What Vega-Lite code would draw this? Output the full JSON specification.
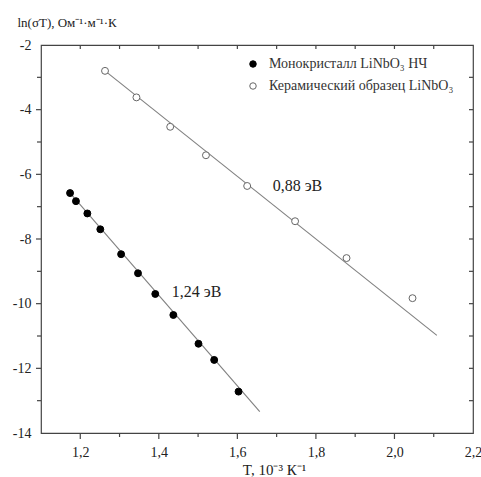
{
  "$schema": "https://vega.github.io/schema/vega-lite/v6.json",
  "width": 432,
  "height": 388,
  "autosize": {"type": "none"},
  "padding": {"left": 41, "top": 45, "right": 8, "bottom": 44},
  "background": "white",
  "config": {
    "view": {"stroke": "#444", "strokeWidth": 1.2},
    "font": "Liberation Serif",
    "axis": {
      "domain": false,
      "ticks": false,
      "labelColor": "#222",
      "titleColor": "#222",
      "labelFont": "Liberation Serif",
      "titleFont": "Liberation Serif",
      "labelFontSize": 14,
      "titleFontSize": 13,
      "titleFontWeight": "normal",
      "grid": false
    }
  },
  "datasets": {
    "pts": [
      {"s": "Монокристалл LiNbO₃ НЧ", "x": 1.174, "y": -6.58},
      {"s": "Монокристалл LiNbO₃ НЧ", "x": 1.189, "y": -6.83},
      {"s": "Монокристалл LiNbO₃ НЧ", "x": 1.218, "y": -7.21},
      {"s": "Монокристалл LiNbO₃ НЧ", "x": 1.251, "y": -7.70},
      {"s": "Монокристалл LiNbO₃ НЧ", "x": 1.304, "y": -8.47},
      {"s": "Монокристалл LiNbO₃ НЧ", "x": 1.347, "y": -9.06},
      {"s": "Монокристалл LiNbO₃ НЧ", "x": 1.391, "y": -9.70},
      {"s": "Монокристалл LiNbO₃ НЧ", "x": 1.437, "y": -10.35},
      {"s": "Монокристалл LiNbO₃ НЧ", "x": 1.501, "y": -11.24},
      {"s": "Монокристалл LiNbO₃ НЧ", "x": 1.541, "y": -11.74},
      {"s": "Монокристалл LiNbO₃ НЧ", "x": 1.603, "y": -12.72},
      {"s": "Керамический образец LiNbO₃", "x": 1.263, "y": -2.80},
      {"s": "Керамический образец LiNbO₃", "x": 1.343, "y": -3.62},
      {"s": "Керамический образец LiNbO₃", "x": 1.429, "y": -4.53},
      {"s": "Керамический образец LiNbO₃", "x": 1.520, "y": -5.41},
      {"s": "Керамический образец LiNbO₃", "x": 1.625, "y": -6.36},
      {"s": "Керамический образец LiNbO₃", "x": 1.747, "y": -7.45},
      {"s": "Керамический образец LiNbO₃", "x": 1.878, "y": -8.59},
      {"s": "Керамический образец LiNbO₃", "x": 2.046, "y": -9.83}
    ],
    "fits": [
      {"s": "a", "x": 1.172, "y": -6.55},
      {"s": "a", "x": 1.657, "y": -13.34},
      {"s": "b", "x": 1.263, "y": -2.80},
      {"s": "b", "x": 2.108, "y": -10.98}
    ],
    "notes": [
      {"x": 1.690, "y": -6.36, "t": "0,88 эВ"},
      {"x": 1.433, "y": -9.64, "t": "1,24 эВ"}
    ],
    "xt": [
      {"v": 1.2}, {"v": 1.3}, {"v": 1.4}, {"v": 1.5}, {"v": 1.6},
      {"v": 1.7}, {"v": 1.8}, {"v": 1.9}, {"v": 2.0}, {"v": 2.1}
    ],
    "yt": [
      {"v": -13}, {"v": -12}, {"v": -11}, {"v": -10}, {"v": -9}, {"v": -8},
      {"v": -7}, {"v": -6}, {"v": -5}, {"v": -4}, {"v": -3}
    ]
  },
  "layer": [
    {
      "data": {"name": "fits"},
      "mark": {"type": "line", "color": "#808080", "strokeWidth": 1.1},
      "encoding": {
        "x": {
          "field": "x", "type": "quantitative",
          "scale": {"domain": [1.1, 2.2], "nice": false, "zero": false},
          "axis": {
            "orient": "bottom",
            "values": [1.2, 1.4, 1.6, 1.8, 2.0, 2.2],
            "labelExpr": "replace(format(datum.value, '.1f'), '.', ',')",
            "labelPadding": 12,
            "labelFlush": false,
            "labelOverlap": false,
            "title": "T, 10⁻³ К⁻¹",
            "titleFontSize": 15,
            "titlePadding": 0,
            "titleX": 233,
            "titleY": 41,
            "titleAlign": "center",
            "titleBaseline": "alphabetic"
          }
        },
        "y": {
          "field": "y", "type": "quantitative",
          "scale": {"domain": [-14, -2], "nice": false, "zero": false},
          "axis": {
            "orient": "left",
            "values": [-14, -12, -10, -8, -6, -4, -2],
            "labelExpr": "toString(datum.value)",
            "labelPadding": 10,
            "labelFlush": false,
            "labelOverlap": false,
            "title": "ln(σT), Ом⁻¹·м⁻¹·К",
            "titleAngle": 0,
            "titleAlign": "left",
            "titleBaseline": "alphabetic",
            "titleX": -24,
            "titleY": -19
          }
        },
        "detail": {"field": "s"}
      }
    },
    {
      "data": {"name": "xt"},
      "transform": [{"filter": "round(datum.v*10) % 2 == 0"}],
      "mark": {"type": "tick", "orient": "vertical", "color": "#444", "thickness": 1.2, "size": 6, "yOffset": 3, "opacity": 1},
      "encoding": {
        "x": {"field": "v", "type": "quantitative", "axis": null},
        "y": {"datum": -14, "type": "quantitative", "axis": null}
      }
    },
    {
      "data": {"name": "xt"},
      "transform": [{"filter": "round(datum.v*10) % 2 != 0"}],
      "mark": {"type": "tick", "orient": "vertical", "color": "#444", "thickness": 1.2, "size": 4, "yOffset": 2, "opacity": 1},
      "encoding": {
        "x": {"field": "v", "type": "quantitative", "axis": null},
        "y": {"datum": -14, "type": "quantitative", "axis": null}
      }
    },
    {
      "data": {"name": "xt"},
      "mark": {"type": "tick", "orient": "vertical", "color": "#444", "thickness": 1.2, "size": 4, "yOffset": 2, "opacity": 1},
      "encoding": {
        "x": {"field": "v", "type": "quantitative", "axis": null},
        "y": {"datum": -2, "type": "quantitative", "axis": null}
      }
    },
    {
      "data": {"name": "yt"},
      "transform": [{"filter": "datum.v % 2 == 0"}],
      "mark": {"type": "tick", "orient": "horizontal", "color": "#444", "thickness": 1.2, "size": 5, "xOffset": -2.5, "opacity": 1},
      "encoding": {
        "y": {"field": "v", "type": "quantitative", "axis": null},
        "x": {"datum": 1.1, "type": "quantitative", "axis": null}
      }
    },
    {
      "data": {"name": "yt"},
      "transform": [{"filter": "datum.v % 2 != 0"}],
      "mark": {"type": "tick", "orient": "horizontal", "color": "#444", "thickness": 1.2, "size": 4, "xOffset": -2, "opacity": 1},
      "encoding": {
        "y": {"field": "v", "type": "quantitative", "axis": null},
        "x": {"datum": 1.1, "type": "quantitative", "axis": null}
      }
    },
    {
      "data": {"name": "yt"},
      "mark": {"type": "tick", "orient": "horizontal", "color": "#444", "thickness": 1.2, "size": 4, "xOffset": -2, "opacity": 1},
      "encoding": {
        "y": {"field": "v", "type": "quantitative", "axis": null},
        "x": {"datum": 2.2, "type": "quantitative", "axis": null}
      }
    },
    {
      "data": {"name": "pts"},
      "mark": {"type": "point", "filled": false, "size": 48, "strokeWidth": 1, "opacity": 1},
      "encoding": {
        "x": {"field": "x", "type": "quantitative", "axis": null},
        "y": {"field": "y", "type": "quantitative", "axis": null},
        "fill": {
          "field": "s", "type": "nominal",
          "scale": {"domain": ["Монокристалл LiNbO₃ НЧ", "Керамический образец LiNbO₃"], "range": ["#000000", "#ffffff"]},
          "legend": {
            "title": null,
            "orient": "none",
            "legendX": 205,
            "legendY": 12,
            "padding": 0,
            "symbolType": "circle",
            "symbolSize": 42,
            "symbolStrokeColor": "#000",
            "symbolStrokeWidth": 1,
            "symbolOpacity": 1,
            "labelFont": "Liberation Serif",
            "labelFontSize": 14,
            "labelColor": "#333",
            "labelOffset": 9,
            "rowPadding": 8,
            "labelLimit": 300
          }
        },
        "stroke": {
          "field": "s", "type": "nominal",
          "scale": {"domain": ["Монокристалл LiNbO₃ НЧ", "Керамический образец LiNbO₃"], "range": ["#000000", "#666666"]},
          "legend": null
        }
      }
    },
    {
      "data": {"name": "notes"},
      "mark": {"type": "text", "align": "left", "baseline": "middle", "font": "Liberation Serif", "fontSize": 16, "color": "#222"},
      "encoding": {
        "x": {"field": "x", "type": "quantitative", "axis": null},
        "y": {"field": "y", "type": "quantitative", "axis": null},
        "text": {"field": "t"}
      }
    }
  ],
  "resolve": {"axis": {"x": "independent", "y": "independent"}}
}
